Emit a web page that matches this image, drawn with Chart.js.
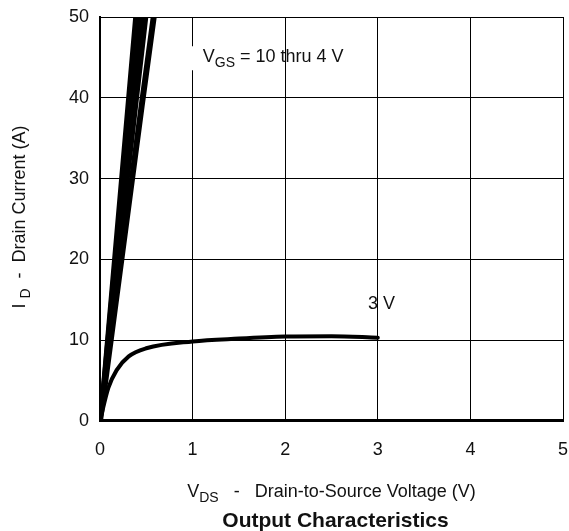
<!DOCTYPE html>
<html>
<head>
<meta charset="utf-8">
<script src="https://cdn.jsdelivr.net/npm/chart.js@4.4.1/dist/chart.umd.min.js"></script>
<style>
  html, body { margin: 0; padding: 0; background: #fff; }
  #wrap { width: 569px; height: 531px; }
</style>
</head>
<body>
<div id="wrap"><canvas id="outputChart" width="569" height="531"></canvas></div>
<script>
// axis ticks
const vdsTicks = [0, 1, 2, 3, 4, 5]
const idTicks = [0, 10, 20, 30, 40, 50]

// VGS = 10 thru 5 V: near-linear lines, VDS where each reaches 50 A
const idSteep = [0, 50]
const vdsAt50A = [0.38, 0.40, 0.43, 0.45, 0.48, 0.50]

// VGS = 4 V
const vds4V = [0, 0.15, 0.30, 0.45, 0.58]
const id4V = [0, 13, 26, 39, 50]

// VGS = 3 V
const vds3V = [0, 0.09, 0.18, 0.31, 0.50, 1.0, 1.5, 2.0, 2.5, 3.0]
const id3V = [0, 4.1, 6.3, 8.0, 9.0, 9.85, 10.2, 10.45, 10.5, 10.3]

// VGS = 2 V (no current)
const vds2V = [0, 5]
const id2V = [0, 0]

const font = "'Liberation Sans', Arial, Helvetica, sans-serif"

function toPoints(xs, ys) {
    return xs.map((x, i) => ({ x: x, y: ys[i] }))
}

function curve(points, width) {
    return {
        data: points,
        borderColor: '#000',
        borderWidth: width,
        pointRadius: 0,
        showLine: true,
        fill: false,
        tension: 0,
        borderCapStyle: 'round',
        borderJoinStyle: 'round'
    }
}

const datasets = []
vdsAt50A.forEach(v => datasets.push(curve(toPoints([0, v], idSteep), 4)))
datasets.push(curve(toPoints(vds4V, id4V), 6))
const ds3 = curve(toPoints(vds3V, id3V), 4)
ds3.cubicInterpolationMode = 'monotone'
datasets.push(ds3)
datasets.push(curve(toPoints(vds2V, id2V), 4))

// draw text with a subscript part
function subText(ctx, parts, x, y, align) {
    // parts: [[text, isSub], ...]
    const big = '18px ' + font
    const small = '14px ' + font
    let total = 0
    parts.forEach(p => { ctx.font = p[1] ? small : big; total += ctx.measureText(p[0]).width })
    let cx = align === 'center' ? x - total / 2 : x
    ctx.textAlign = 'left'
    ctx.textBaseline = 'alphabetic'
    parts.forEach(p => {
        ctx.font = p[1] ? small : big
        ctx.fillText(p[0], cx, p[1] ? y + 5 : y)
        cx += ctx.measureText(p[0]).width
    })
}

const labelsPlugin = {
    id: 'labels',
    afterDraw(chart) {
        const ctx = chart.ctx
        const xs = chart.scales.x
        const ys = chart.scales.y
        const area = chart.chartArea
        ctx.save()

        // curve labels
        const lx = xs.getPixelForValue(1.11)
        const ly = ys.getPixelForValue(44.4)
        ctx.fillStyle = '#fff'
        ctx.fillRect(lx - 14, ly - 16, 14, 24)
        ctx.fillStyle = '#111'
        subText(ctx, [['V', false], ['GS', true], [' = 10 thru 4 V', false]], lx, ly, 'left')
        subText(ctx, [['3 V', false]], xs.getPixelForValue(3.04), ys.getPixelForValue(13.8), 'center')

        // x axis title
        const cx = (area.left + area.right) / 2
        subText(ctx, [['V', false], ['DS', true], ['   -   Drain-to-Source Voltage (V)', false]], cx, 497, 'center')
        ctx.font = 'bold 21px ' + font
        ctx.textAlign = 'center'
        ctx.fillText('Output Characteristics', cx + 4, 527)

        // y axis title
        ctx.translate(25, (area.top + area.bottom) / 2 - 2)
        ctx.rotate(-Math.PI / 2)
        subText(ctx, [['I ', false], ['D', true], ['  -  Drain Current (A)', false]], 0, 0, 'center')
        ctx.restore()
    }
}

new Chart(document.getElementById('outputChart').getContext('2d'), {
    type: 'scatter',
    data: { datasets: datasets },
    options: {
        responsive: false,
        animation: false,
        layout: { padding: { top: 17, right: 6, left: 0, bottom: 0 } },
        plugins: { legend: { display: false }, tooltip: { enabled: false } },
        scales: {
            x: {
                type: 'linear',
                min: 0, max: 5,
                afterBuildTicks: s => { s.ticks = vdsTicks.map(v => ({ value: v })) },
                afterFit: s => { s.height = 110; s.paddingLeft = 0; s.paddingRight = 0 },
                grid: { color: '#000', lineWidth: 1, drawTicks: false },
                border: { color: '#000', width: 1 },
                ticks: { color: '#111', font: { family: font, size: 18 }, padding: 18, maxRotation: 0 }
            },
            y: {
                type: 'linear',
                min: 0, max: 50,
                afterBuildTicks: s => { s.ticks = idTicks.map(v => ({ value: v })) },
                afterFit: s => { s.width = 100; s.paddingTop = 0; s.paddingBottom = 0 },
                grid: { color: '#000', lineWidth: 1, drawTicks: false },
                border: { color: '#000', width: 2 },
                ticks: { color: '#111', font: { family: font, size: 18 }, padding: 11 }
            }
        }
    },
    plugins: [labelsPlugin]
})
</script>
</body>
</html>
